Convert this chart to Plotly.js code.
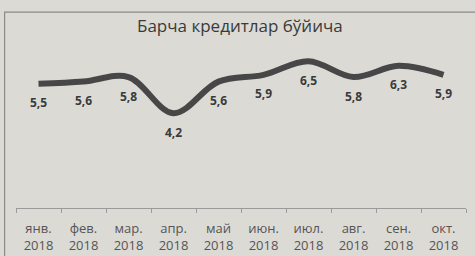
<!DOCTYPE html>
<html>
<head>
<meta charset="utf-8">
<script src="https://cdn.plot.ly/plotly-3.0.1.min.js"></script>
<style>
html,body{margin:0;padding:0;background:#dcdad5;}
#chart{width:475px;height:256px;}
</style>
</head>
<body>
<div id="chart"></div>
<script>
const months = ["янв.", "фев.", "мар.", "апр.", "май", "июн.", "июл.", "авг.", "сен.", "окт."];
const years = ["2018", "2018", "2018", "2018", "2018", "2018", "2018", "2018", "2018", "2018"];
const values = [5.5, 5.6, 5.8, 4.2, 5.6, 5.9, 6.5, 5.8, 6.3, 5.9];
const valueLabels = ["5,5", "5,6", "5,8", "4,2", "5,6", "5,9", "6,5", "5,8", "6,3", "5,9"];
const titleText = "Барча кредитлар бўйича";

const categories = months.map((m, i) => m + "<br>" + years[i]);

const trace = {
  x: categories,
  y: values,
  type: "scatter",
  mode: "lines",
  line: {color: "#474747", width: 6, shape: "spline", smoothing: 1},
  hoverinfo: "skip",
  showlegend: false
};

const annotations = categories.map((c, i) => ({
  x: c, y: values[i], xref: "x", yref: "y",
  text: "<b>" + valueLabels[i] + "</b>",
  showarrow: false, yshift: -19,
  font: {family: "Open Sans, sans-serif", size: 12, color: "#3a3a3a"}
}));

const layout = {
  width: 475, height: 256,
  paper_bgcolor: "#dcdad5",
  plot_bgcolor: "#dcdad5",
  margin: {l: 16, r: 9, t: 50, b: 48},
  title: {
    text: titleText,
    font: {family: "Open Sans, sans-serif", size: 17, color: "#3a3a3a"},
    x: 0.505, xanchor: "center", y: 0.9, yanchor: "middle"
  },
  xaxis: {
    type: "category",
    range: [-0.5, 9.5],
    showline: true, linecolor: "#9a9a9a", linewidth: 1,
    ticks: "outside", tickson: "boundaries", ticklen: 4, tickcolor: "#9a9a9a",
    ticklabelstandoff: 8,
    showgrid: false, zeroline: false,
    tickfont: {family: "Open Sans, sans-serif", size: 13, color: "#555555"},
    fixedrange: true
  },
  yaxis: {
    range: [0, 7],
    visible: false,
    showgrid: false, zeroline: false,
    fixedrange: true
  },
  annotations: annotations,
  shapes: [{
    type: "rect", xref: "paper", yref: "paper",
    x0: -0.0253, x1: 1.05, y0: -0.5, y1: 1.24,
    line: {color: "#8a8a8a", width: 1.2}
  }]
};

Plotly.newPlot("chart", [trace], layout, {displayModeBar: false, staticPlot: true});
</script>
</body>
</html>
